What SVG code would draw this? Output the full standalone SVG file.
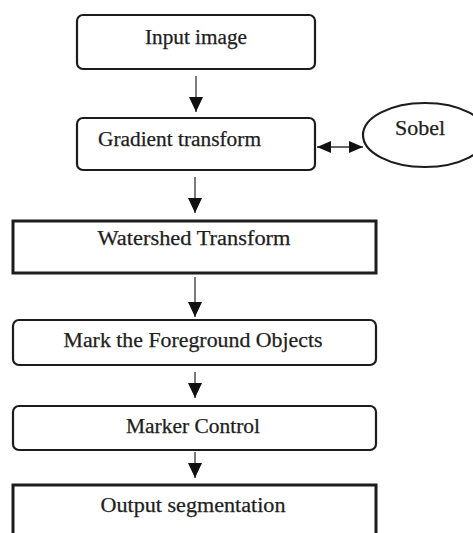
<svg xmlns="http://www.w3.org/2000/svg" width="473" height="533" viewBox="0 0 473 533">
<style>
.box{fill:#fff;stroke:#1c1c1c;stroke-width:2.2}
.thick{fill:#fff;stroke:#1c1c1c;stroke-width:3}
.lbl{font-family:"Liberation Serif","Times New Roman",serif;font-size:20px;fill:#1e1e1e;stroke:#1e1e1e;stroke-width:0.25}
.conn{stroke:#333;stroke-width:1.3;fill:none}
</style>
<defs>
<marker id="ah" markerUnits="userSpaceOnUse" markerWidth="16" markerHeight="16" refX="15" refY="7" orient="auto">
<path d="M0,0 L15,7 L0,14 Z" fill="#111"/>
</marker>
<marker id="ah2" markerUnits="userSpaceOnUse" markerWidth="16" markerHeight="14" refX="14" refY="6" orient="auto-start-reverse">
<path d="M0,0 L14,6 L0,12 Z" fill="#111"/>
</marker>
</defs>
<rect width="473" height="533" fill="#fff"/>
<g id="connectors">
<line class="conn" x1="196" y1="76" x2="196" y2="112" marker-end="url(#ah)"/>
<line class="conn" x1="195" y1="177" x2="195" y2="213" marker-end="url(#ah)"/>
<line class="conn" x1="195" y1="277" x2="195" y2="317" marker-end="url(#ah)"/>
<line class="conn" x1="195" y1="372" x2="195" y2="398" marker-end="url(#ah)"/>
<line class="conn" x1="195" y1="452" x2="195" y2="478" marker-end="url(#ah)"/>
<line class="conn" x1="317" y1="147" x2="363" y2="147" marker-start="url(#ah2)" marker-end="url(#ah2)"/>
</g>
<g id="input">
<rect class="box" x="77" y="15" width="238" height="54" rx="6"/>
<text class="lbl" x="196" y="44" text-anchor="middle" textLength="102" lengthAdjust="spacingAndGlyphs">Input image</text>
</g>
<g id="gradient">
<rect class="box" x="77" y="118" width="238" height="52" rx="6"/>
<text class="lbl" x="98" y="146" textLength="163" lengthAdjust="spacingAndGlyphs">Gradient transform</text>
</g>
<g id="sobel">
<ellipse class="box" cx="425" cy="135" rx="62" ry="32"/>
<text class="lbl" x="420" y="135" text-anchor="middle" textLength="50" lengthAdjust="spacingAndGlyphs">Sobel</text>
</g>
<g id="watershed">
<rect class="thick" x="13" y="221" width="363" height="52"/>
<text class="lbl" x="194" y="245" text-anchor="middle" textLength="193" lengthAdjust="spacingAndGlyphs">Watershed Transform</text>
</g>
<g id="mark">
<rect class="box" x="13" y="320" width="363" height="45" rx="6"/>
<text class="lbl" x="193" y="347" text-anchor="middle" textLength="259" lengthAdjust="spacingAndGlyphs">Mark the Foreground Objects</text>
</g>
<g id="marker">
<rect class="box" x="13" y="406" width="363" height="44" rx="6"/>
<text class="lbl" x="193" y="433" text-anchor="middle" textLength="134" lengthAdjust="spacingAndGlyphs">Marker Control</text>
</g>
<g id="output">
<rect class="thick" x="13" y="485" width="363" height="60"/>
<text class="lbl" x="193" y="512" text-anchor="middle" textLength="185" lengthAdjust="spacingAndGlyphs">Output segmentation</text>
</g>
</svg>
